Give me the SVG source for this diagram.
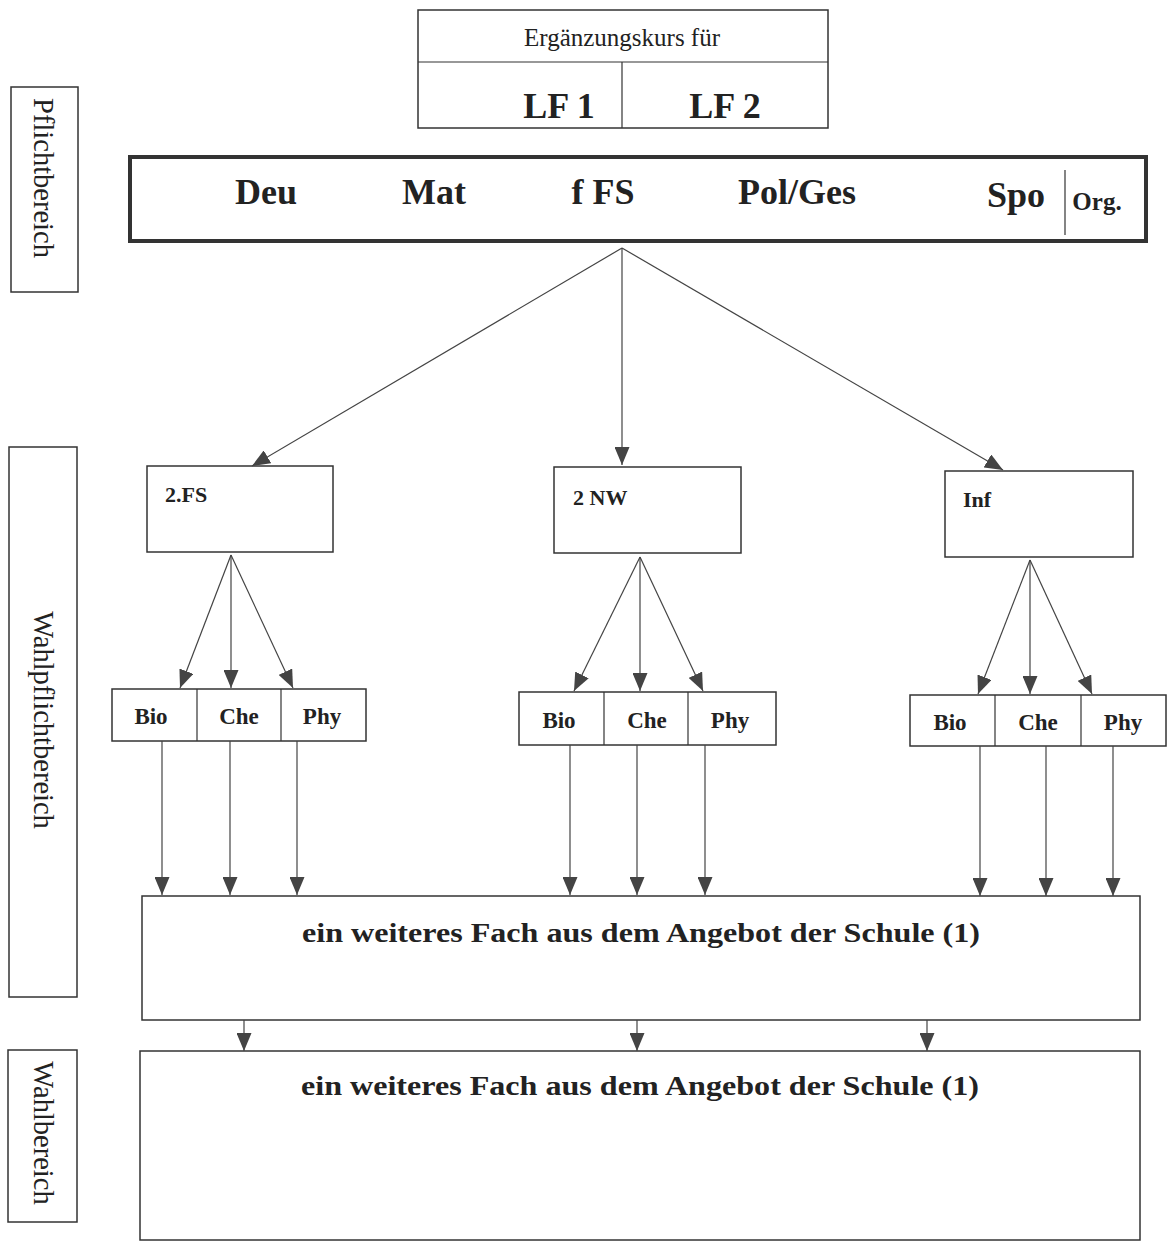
<svg xmlns="http://www.w3.org/2000/svg" width="1167" height="1250" viewBox="0 0 1167 1250">
<defs>
<marker id="ah" markerUnits="userSpaceOnUse" markerWidth="18" markerHeight="15" viewBox="0 0 18 15" refX="18" refY="7.5" orient="auto">
<path d="M0,0 L18,7.5 L0,15 Z" fill="#444"/>
</marker>
<style>
.box{fill:#fff;stroke:#333;stroke-width:1.5}
.thick{fill:#fff;stroke:#333;stroke-width:4}
.ln{stroke:#333;stroke-width:1.2;fill:none}
.c{stroke:#444;stroke-width:1.2;fill:none;marker-end:url(#ah)}
text{font-family:"Liberation Serif","Times New Roman",serif;fill:#222}
.b{font-weight:bold}
.side{font-size:28.5px;text-anchor:middle}
</style>
</defs>
<rect width="1167" height="1250" fill="#fff"/>

<g id="side-pflicht">
<rect class="box" x="11" y="87" width="67" height="205"/>
<text class="side" transform="translate(43,178) rotate(90)" dy="0.33em">Pflichtbereich</text>
</g>
<g id="side-wahlpflicht">
<rect class="box" x="9" y="447" width="68" height="550"/>
<text class="side" transform="translate(43,720) rotate(90)" dy="0.33em">Wahlpflichtbereich</text>
</g>
<g id="side-wahl">
<rect class="box" x="8" y="1050" width="69" height="172"/>
<text class="side" transform="translate(43,1133) rotate(90)" dy="0.33em">Wahlbereich</text>
</g>

<g id="ergaenzung">
<rect class="box" x="418" y="10" width="410" height="118"/>
<line class="ln" x1="418" y1="62" x2="828" y2="62"/>
<line class="ln" x1="622" y1="62" x2="622" y2="128"/>
<text x="622" y="46" font-size="25" text-anchor="middle">Ergänzungskurs für</text>
<text class="b" x="559" y="118" font-size="36" text-anchor="middle">LF 1</text>
<text class="b" x="725" y="118" font-size="36" text-anchor="middle">LF 2</text>
</g>

<g id="pflicht">
<rect class="thick" x="130" y="157" width="1016" height="84"/>
<line class="ln" x1="1065" y1="170" x2="1065" y2="235"/>
<text class="b" x="266" y="204" font-size="36" text-anchor="middle">Deu</text>
<text class="b" x="434" y="204" font-size="36" text-anchor="middle">Mat</text>
<text class="b" x="603" y="204" font-size="36" text-anchor="middle">f FS</text>
<text class="b" x="797" y="204" font-size="36" text-anchor="middle">Pol/Ges</text>
<text class="b" x="1016" y="207" font-size="36" text-anchor="middle">Spo</text>
<text class="b" x="1097" y="210" font-size="25" text-anchor="middle">Org.</text>
</g>

<g id="fs2">
<rect class="box" x="147" y="466" width="186" height="86"/>
<text class="b" x="165" y="502" font-size="22">2.FS</text>
</g>
<g id="nw2">
<rect class="box" x="554" y="467" width="187" height="86"/>
<text class="b" x="573" y="505" font-size="22">2 NW</text>
</g>
<g id="inf">
<rect class="box" x="945" y="471" width="188" height="86"/>
<text class="b" x="963" y="507" font-size="22">Inf</text>
</g>

<g id="fach-left" font-size="23">
<rect class="box" x="112" y="689" width="254" height="52"/>
<line class="ln" x1="197" y1="689" x2="197" y2="741"/>
<line class="ln" x1="281" y1="689" x2="281" y2="741"/>
<text class="b" x="151" y="724" text-anchor="middle">Bio</text>
<text class="b" x="239" y="724" text-anchor="middle">Che</text>
<text class="b" x="322" y="724" text-anchor="middle">Phy</text>
</g>
<g id="fach-mid" font-size="23">
<rect class="box" x="519" y="692" width="257" height="53"/>
<line class="ln" x1="604" y1="692" x2="604" y2="745"/>
<line class="ln" x1="688" y1="692" x2="688" y2="745"/>
<text class="b" x="559" y="728" text-anchor="middle">Bio</text>
<text class="b" x="647" y="728" text-anchor="middle">Che</text>
<text class="b" x="730" y="728" text-anchor="middle">Phy</text>
</g>
<g id="fach-right" font-size="23">
<rect class="box" x="910" y="695" width="256" height="51"/>
<line class="ln" x1="995" y1="695" x2="995" y2="746"/>
<line class="ln" x1="1081" y1="695" x2="1081" y2="746"/>
<text class="b" x="950" y="730" text-anchor="middle">Bio</text>
<text class="b" x="1038" y="730" text-anchor="middle">Che</text>
<text class="b" x="1123" y="730" text-anchor="middle">Phy</text>
</g>

<g id="weiteres1">
<rect class="box" x="142" y="896" width="998" height="124"/>
<text class="b" x="641" y="942" font-size="28" text-anchor="middle" textLength="678" lengthAdjust="spacingAndGlyphs">ein weiteres Fach aus dem Angebot der Schule (1)</text>
</g>
<g id="weiteres2">
<rect class="box" x="140" y="1051" width="1000" height="189"/>
<text class="b" x="640" y="1095" font-size="28" text-anchor="middle" textLength="678" lengthAdjust="spacingAndGlyphs">ein weiteres Fach aus dem Angebot der Schule (1)</text>
</g>

<g id="connectors">
<line class="c" x1="622" y1="248" x2="252" y2="466"/>
<line class="c" x1="622" y1="248" x2="622" y2="465"/>
<line class="c" x1="622" y1="248" x2="1003" y2="470"/>

<line class="c" x1="231" y1="555" x2="180" y2="688"/>
<line class="c" x1="231" y1="555" x2="231" y2="688"/>
<line class="c" x1="231" y1="555" x2="293" y2="688"/>

<line class="c" x1="640" y1="557" x2="574" y2="691"/>
<line class="c" x1="640" y1="557" x2="640" y2="691"/>
<line class="c" x1="640" y1="557" x2="703" y2="691"/>

<line class="c" x1="1030" y1="560" x2="978" y2="694"/>
<line class="c" x1="1030" y1="560" x2="1030" y2="694"/>
<line class="c" x1="1030" y1="560" x2="1092" y2="694"/>

<line class="c" x1="162" y1="741" x2="162" y2="895"/>
<line class="c" x1="230" y1="741" x2="230" y2="895"/>
<line class="c" x1="297" y1="741" x2="297" y2="895"/>
<line class="c" x1="570" y1="745" x2="570" y2="895"/>
<line class="c" x1="637" y1="745" x2="637" y2="895"/>
<line class="c" x1="705" y1="745" x2="705" y2="895"/>
<line class="c" x1="980" y1="746" x2="980" y2="896"/>
<line class="c" x1="1046" y1="746" x2="1046" y2="896"/>
<line class="c" x1="1113" y1="746" x2="1113" y2="896"/>

<line class="c" x1="244" y1="1020" x2="244" y2="1051"/>
<line class="c" x1="637" y1="1020" x2="637" y2="1051"/>
<line class="c" x1="927" y1="1020" x2="927" y2="1051"/>
</g>
</svg>
